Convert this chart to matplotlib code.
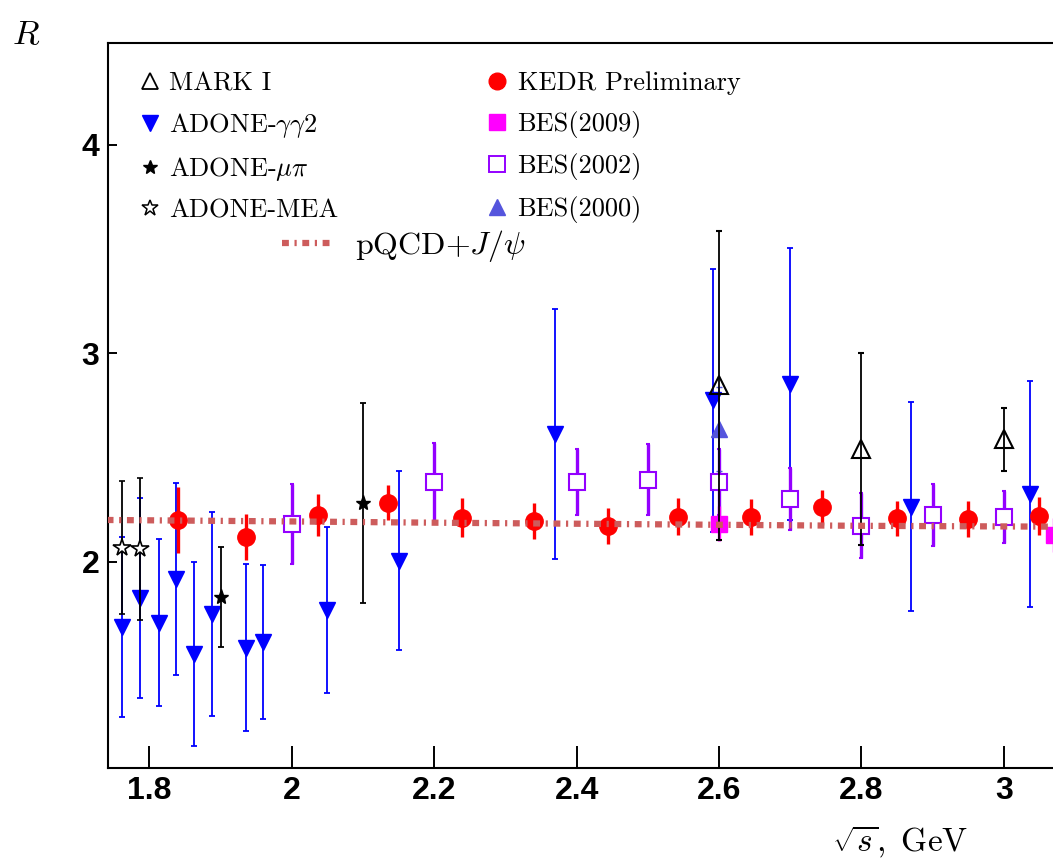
import matplotlib
matplotlib.use("Agg")
import matplotlib.pyplot as plt
from matplotlib.lines import Line2D

plt.rcParams['mathtext.fontset'] = 'cm'

# KEDR Preliminary
kedr_x = [1.840, 1.936, 2.037, 2.135, 2.239, 2.340, 2.444, 2.543, 2.645, 2.745, 2.850, 2.950, 3.049]
kedr_r = [2.200, 2.120, 2.224, 2.283, 2.211, 2.195, 2.171, 2.216, 2.216, 2.261, 2.208, 2.203, 2.219]
kedr_err = [0.16, 0.11, 0.10, 0.085, 0.095, 0.085, 0.085, 0.088, 0.087, 0.085, 0.085, 0.087, 0.09]

# ADONE-gamma gamma 2
gg2_x = [1.762, 1.787, 1.813, 1.838, 1.863, 1.888, 1.936, 1.960, 2.050, 2.150, 2.370, 2.591, 2.700, 2.870, 3.036]
gg2_r = [1.686, 1.827, 1.707, 1.917, 1.557, 1.749, 1.588, 1.616, 1.768, 2.005, 2.614, 2.774, 2.852, 2.264, 2.325]
gg2_err = [0.43, 0.48, 0.40, 0.46, 0.44, 0.49, 0.40, 0.37, 0.40, 0.43, 0.60, 0.63, 0.65, 0.50, 0.54]

# ADONE-mu pi
mupi_x = [1.900, 2.100]
mupi_r = [1.829, 2.280]
mupi_err = [0.24, 0.48]

# ADONE-MEA
mea_x = [1.762, 1.787]
mea_r = [2.067, 2.059]
mea_err = [0.32, 0.34]

# MARK I
mark_x = [2.600, 2.800, 3.000]
mark_r = [2.846, 2.539, 2.587]
mark_err = [0.74, 0.46, 0.15]

# BES(2002)
bes02_x = [2.000, 2.200, 2.400, 2.500, 2.600, 2.700, 2.800, 2.900, 3.000]
bes02_r = [2.181, 2.382, 2.382, 2.392, 2.382, 2.301, 2.173, 2.224, 2.213]
bes02_err = [0.19, 0.187, 0.16, 0.17, 0.16, 0.15, 0.155, 0.15, 0.125]

# BES(2009)
bes09_x = [2.600, 3.070]
bes09_r = [2.182, 2.128]
bes09_err = [0.085, 0.08]

# BES(2000)
bes00_x = [2.600]
bes00_r = [2.637]
bes00_err = [0.20]

# pQCD + J/psi
pqcd_x = [1.74, 2.0, 2.2, 2.4, 2.6, 2.8, 3.07]
pqcd_r = [2.200, 2.193, 2.187, 2.182, 2.177, 2.172, 2.168]

fig = plt.figure(figsize=(10.53, 8.6), dpi=100)
W, H = 1053.0, 860.0
ax = fig.add_axes([107.7 / W, 92.3 / H, 1 - 107.7 / W, 724.4 / H])

blue = '#0000ff'
purple = '#9400ff'

ax.errorbar(gg2_x, gg2_r, yerr=gg2_err, fmt='v', color=blue, ms=12,
            elinewidth=1.3, capsize=2, capthick=1.3, zorder=3)
ax.errorbar(mea_x, mea_r, yerr=mea_err, fmt='*', color='black', mfc='white',
            mew=1.2, ms=13, elinewidth=1.3, capsize=2, capthick=1.3, zorder=4)
ax.errorbar(mupi_x, mupi_r, yerr=mupi_err, fmt='*', color='black', ms=11,
            elinewidth=1.3, capsize=2, capthick=1.3, zorder=4)
ax.errorbar(bes02_x, bes02_r, yerr=bes02_err, fmt='s', color=purple, mfc='white',
            mew=1.5, ms=12, elinewidth=2.4, capsize=1.2, capthick=2.0, zorder=4)
ax.errorbar(bes09_x, bes09_r, yerr=bes09_err, fmt='s', color='#ff00ff', ms=12,
            elinewidth=2.4, capsize=0, zorder=4)
ax.errorbar(bes00_x, bes00_r, yerr=bes00_err, fmt='^', color='#5555dd', ms=12,
            elinewidth=1.3, capsize=2, zorder=4)
ax.errorbar(mark_x, mark_r, yerr=mark_err, fmt='^', color='black', mfc='none',
            mew=1.5, ms=12.5, elinewidth=1.3, capsize=2, capthick=1.3, zorder=5)
ax.errorbar(kedr_x, kedr_r, yerr=kedr_err, fmt='o', color='red', ms=12.5,
            elinewidth=2.4, capsize=0, zorder=5)
pq, = ax.plot(pqcd_x, pqcd_r, color='#cd5c5c', lw=4.5,
              dashes=(1.1, 0.9, 0.35, 0.9), dash_capstyle='butt', zorder=6)

ax.set_xlim(1.7415, 3.069)
ax.set_ylim(1.012, 4.486)
ax.set_xticks([1.8, 2.0, 2.2, 2.4, 2.6, 2.8, 3.0])
ax.set_xticklabels(['1.8', '2', '2.2', '2.4', '2.6', '2.8', '3'])
ax.set_yticks([2, 3, 4])
ax.set_yticklabels(['2', '3', '4'])
for lab in ax.get_xticklabels() + ax.get_yticklabels():
    lab.set_fontfamily('Liberation Sans')
    lab.set_fontweight('bold')
    lab.set_fontsize(23)
ax.tick_params(axis='x', direction='in', length=16, width=1.4, pad=6, top=False)
ax.tick_params(axis='y', direction='in', length=6.5, width=1.4, pad=6, right=False)
ax.spines['right'].set_visible(False)
for s in ['top', 'left', 'bottom']:
    ax.spines[s].set_linewidth(1.5)

# legends
lp = dict(family='cmr10', size=19)
h1 = [Line2D([], [], ls='none', marker='^', mfc='none', mec='black', mew=1.3, ms=11),
      Line2D([], [], ls='none', marker='v', color=blue, ms=11),
      Line2D([], [], ls='none', marker='*', color='black', ms=10),
      Line2D([], [], ls='none', marker='*', mfc='white', mec='black', mew=1.1, ms=12)]
l1 = ['MARK I', r'ADONE-$\gamma\gamma2$', r'ADONE-$\mu\pi$', 'ADONE-MEA']
h2 = [Line2D([], [], ls='none', marker='o', color='red', ms=12),
      Line2D([], [], ls='none', marker='s', color='#ff00ff', ms=11),
      Line2D([], [], ls='none', marker='s', mfc='white', mec=purple, mew=1.4, ms=11),
      Line2D([], [], ls='none', marker='^', color='#5555dd', ms=11)]
l2 = ['KEDR Preliminary', 'BES(2009)', 'BES(2002)', 'BES(2000)']


def ax_frac(px, py):
    return ((px - 107.7) / (W - 107.7), (767.7 - py) / 724.4)


leg1 = ax.legend(h1, l1, loc='upper left', bbox_to_anchor=ax_frac(137, 71.5),
                 frameon=False, prop=lp, borderpad=0, borderaxespad=0,
                 handlelength=1.0, handletextpad=0.22, labelspacing=0.59)
ax.add_artist(leg1)
leg2 = ax.legend(h2, l2, loc='upper left', bbox_to_anchor=ax_frac(484, 71.5),
                 frameon=False, prop=lp, borderpad=0, borderaxespad=0,
                 handlelength=1.0, handletextpad=0.27, labelspacing=0.59)
ax.add_artist(leg2)
ax.legend([pq], [r'$\mathrm{pQCD{+}}J/\psi$'], loc='upper left',
          bbox_to_anchor=ax_frac(282, 228), frameon=False,
          prop=dict(size=23), borderpad=0, borderaxespad=0,
          handlelength=1.5, handletextpad=0.8)

fig.text(12 / W, 1 - 44 / H, r'$R$', fontsize=25, va='baseline', ha='left')
fig.text(832 / W, 1 - 851.7 / H, r'$\sqrt{s},\ \mathrm{GeV}$', fontsize=24,
         va='baseline', ha='left')

fig.savefig('out.png', dpi=100)
